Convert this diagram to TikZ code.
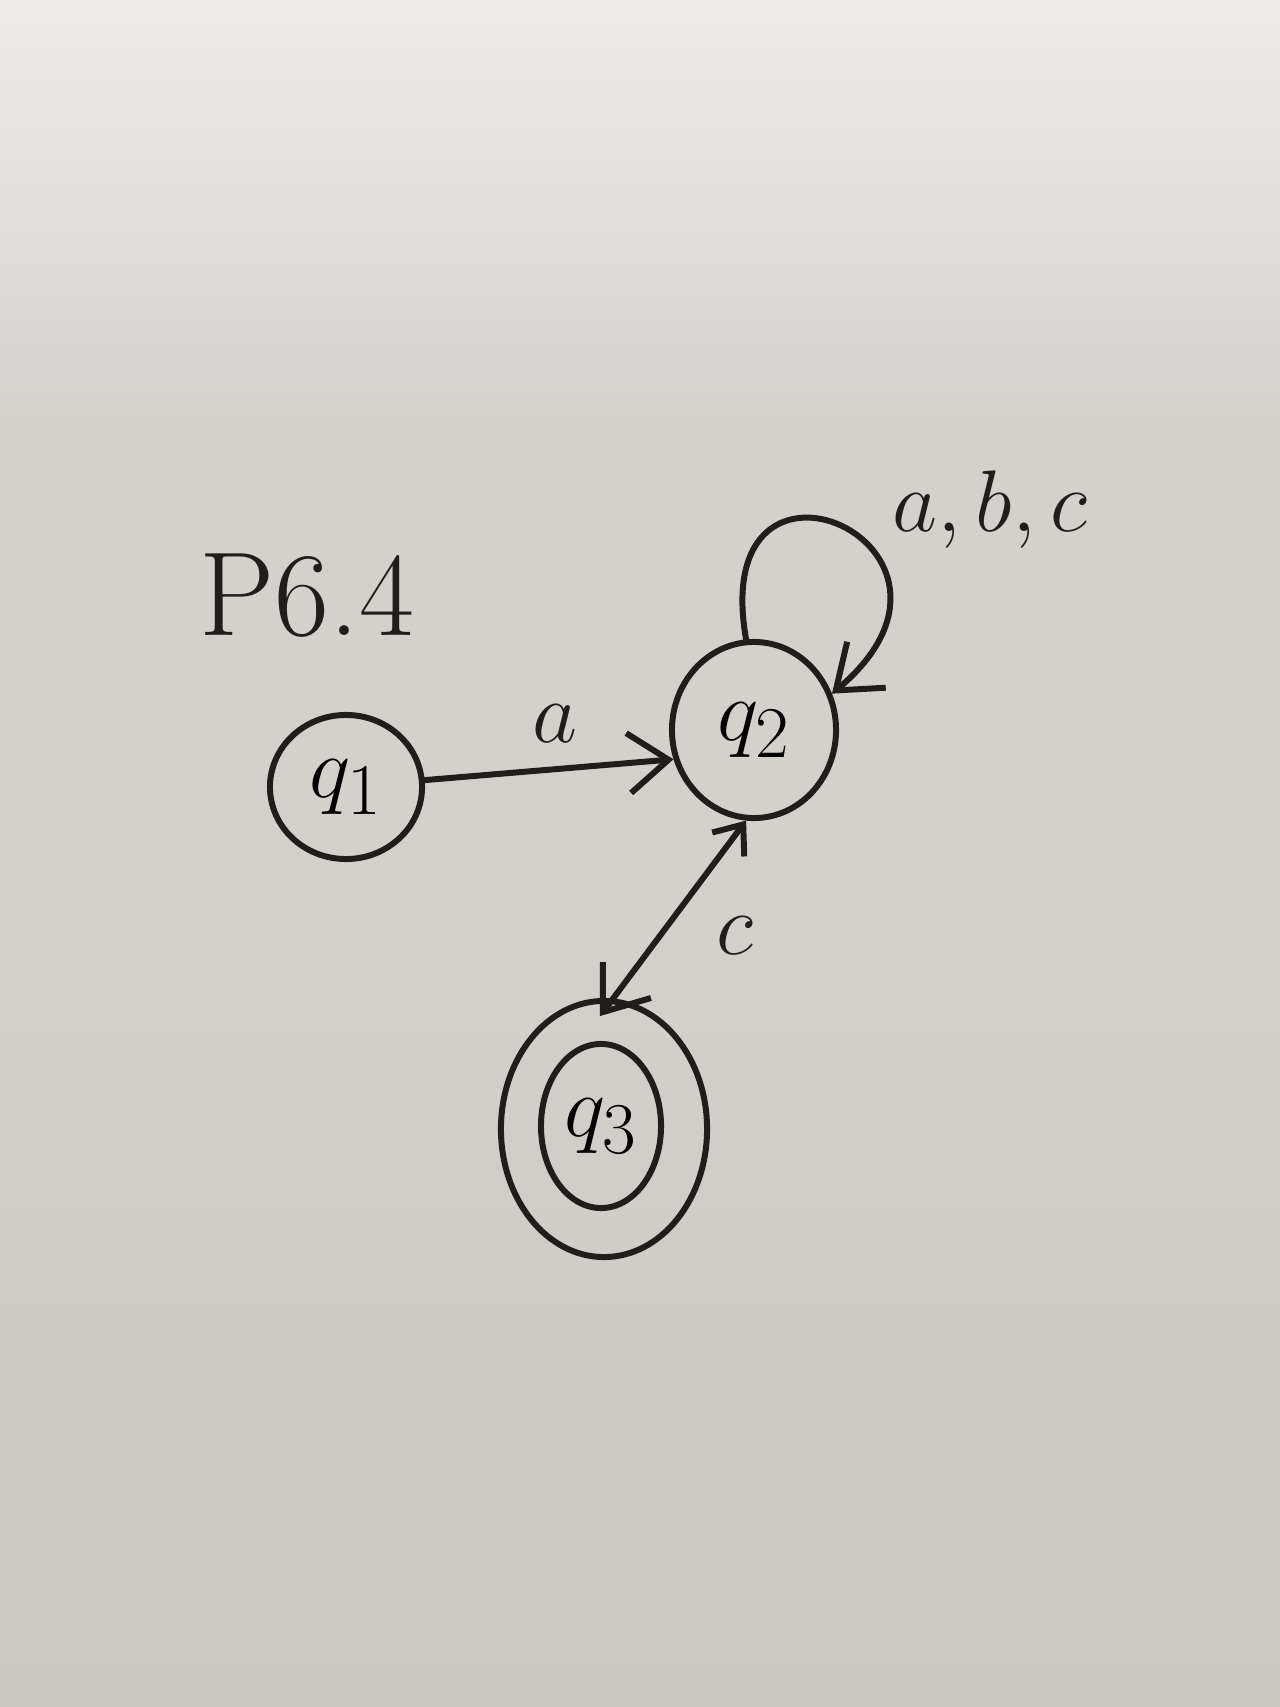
\documentclass[tikz,border=0pt]{standalone}
\usetikzlibrary{arrows.meta,shapes.geometric}
\definecolor{papier}{RGB}{212,209,205}
\definecolor{papierhaut}{RGB}{238,237,235}
\definecolor{papierbas}{RGB}{203,199,194}
\definecolor{encre}{RGB}{32,29,27}
\begin{document}
\begin{tikzpicture}[x=0.01cm,y=0.01cm,line width=1.7pt,line join=round,line cap=round,>={Straight Barb[length=4mm,width=6mm]},
	etat/.style={draw=encre,ellipse,inner sep=0pt,font=\fontsize{30}{36}\selectfont},
	lettre/.style={text=encre,font=\fontsize{32}{38}\selectfont},
	titre/.style={text=encre,font=\fontsize{34}{40}\selectfont}]
		%fond
		\fill[papier] (0,-1707) rectangle (1280,0) ;
		\shade[top color=papierhaut,bottom color=papier] (0,-420) rectangle (1280,0) ;
		\shade[top color=papier,bottom color=papierbas] (0,-1707) rectangle (1280,-900) ;
		\useasboundingbox (0,-1707) rectangle (1280,0) ;
		%états
		\node[etat,minimum width=1.52cm,minimum height=1.44cm] (q1) at (346,-787) {$q_1$} ;
		\node[etat,minimum width=1.64cm,minimum height=1.76cm] (q2) at (754,-730) {$q_2$} ;
		\node[etat,minimum width=1.2cm,minimum height=1.64cm] (q3) at (601,-1126) {$q_3$} ;
		\node[etat,minimum width=2.06cm,minimum height=2.56cm] (q3out) at (604,-1129) {} ;
		%transitions
		\draw[->,draw=encre] (q1.5) -- (q2.200) ;
		\draw[->,draw=encre] (q2.95) to[out=100,in=40,looseness=5.8] (q2.25) ;
		\draw[{Straight Barb[length=2.5mm,width=4mm]}-{Straight Barb[length=4mm,width=6mm]},draw=encre,shorten >=-2.2mm] (q2.265)--(q3out.86) ;
		%labels
		\foreach \Pos/\Nom/\Style/\Texte in {(307,-596)/ltitre/titre/{P6.4},(555,-724)/la/lettre/{$a$},(990,-510)/lboucle/lettre/{$a,b,c$},(735,-936)/lc/lettre/{$c$}}
		\node[\Style] (\Nom) at \Pos {\Texte} ;
\end{tikzpicture}
\end{document}
